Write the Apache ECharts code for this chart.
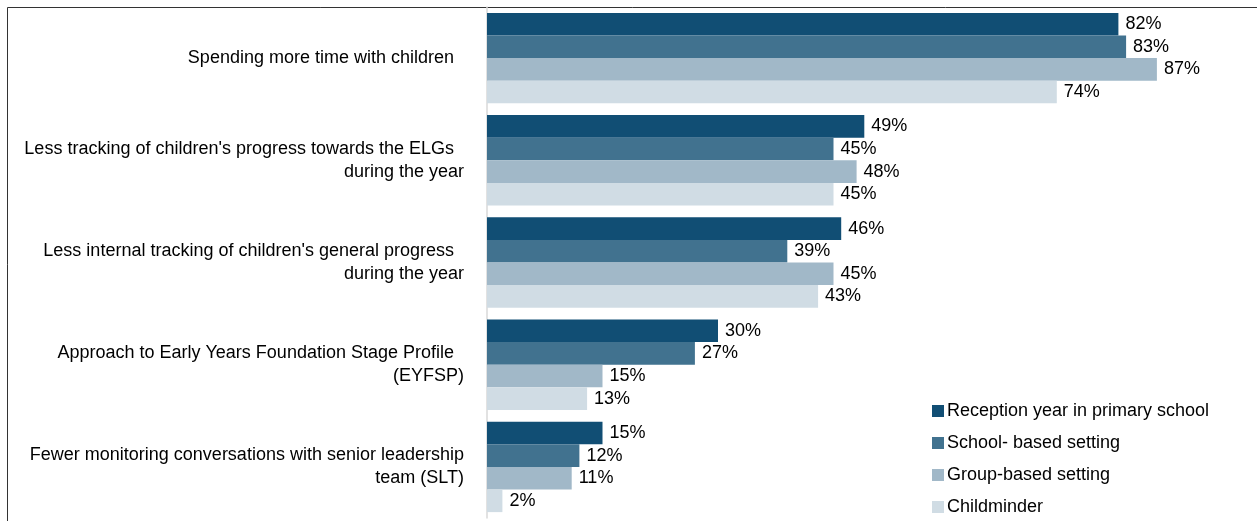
<!DOCTYPE html>
<html>
<head>
<meta charset="utf-8">
<script src="https://cdn.jsdelivr.net/npm/echarts@6/dist/echarts.min.js"></script>
<style>
  html, body { margin: 0; padding: 0; background: #fff; }
  #main { width: 1257px; height: 521px; }
</style>
</head>
<body>
<div id="main"></div>
<script>
// 类目（从上到下）
var categories = [
    'Spending more time with children  ',
    'Less tracking of children\'s progress towards the ELGs  \nduring the year',
    'Less internal tracking of children\'s general progress  \nduring the year',
    'Approach to Early Years Foundation Stage Profile  \n(EYFSP)',
    'Fewer monitoring conversations with senior leadership\nteam (SLT)'
];

// 系列名称
var seriesNames = [
    'Reception year in primary school',
    'School- based setting',
    'Group-based setting',
    'Childminder'
];

// 各系列数值（%）
var reception = [82, 49, 46, 30, 15];
var schoolBased = [83, 45, 39, 27, 12];
var groupBased = [87, 48, 45, 15, 11];
var childminder = [74, 45, 43, 13, 2];

var colors = ['#114e74', '#41728f', '#a1b8c8', '#d0dce4'];

var main = document.getElementById('main');
var chart = echarts.init(main);

function makeSeries(name, data) {
    return {
        name: name,
        type: 'bar',
        data: data,
        barGap: 0,
        barCategoryGap: '11.5%',
        label: {
            show: true,
            position: 'right',
            distance: 7,
            formatter: '{c}%',
            color: '#000',
            fontSize: 18,
            fontFamily: 'Liberation Sans, Arial, sans-serif'
        },
        emphasis: { disabled: true }
    };
}

var option = {
    animation: false,
    color: colors,
    textStyle: { fontFamily: 'Liberation Sans, Arial, sans-serif' },
    grid: {
        left: 487,
        right: 0,
        top: 7,
        bottom: 3
    },
    legend: {
        orient: 'vertical',
        left: 927,
        top: 396,
        height: 130,
        itemWidth: 12,
        itemHeight: 12,
        itemGap: 12,
        icon: 'rect',
        textStyle: {
            fontSize: 18,
            lineHeight: 20,
            color: '#000',
            padding: [0, 0, 0, -2]
        },
        data: seriesNames
    },
    xAxis: {
        type: 'value',
        min: 0,
        max: 100,
        show: false
    },
    yAxis: {
        type: 'category',
        inverse: true,
        data: categories,
        axisLine: { show: true, lineStyle: { color: '#d9d9d9', width: 1.5 } },
        axisTick: { show: false },
        axisLabel: {
            margin: 23,
            fontSize: 18,
            lineHeight: 23,
            color: '#000',
            align: 'right'
        }
    },
    graphic: [{
        type: 'rect',
        shape: { x: 7.5, y: 7.5, width: 1400, height: 700 },
        style: { fill: 'none', stroke: '#333', lineWidth: 1 },
        silent: true
    }],
    series: [
        makeSeries(seriesNames[0], reception),
        makeSeries(seriesNames[1], schoolBased),
        makeSeries(seriesNames[2], groupBased),
        makeSeries(seriesNames[3], childminder)
    ]
};

chart.setOption(option);
</script>
</body>
</html>
